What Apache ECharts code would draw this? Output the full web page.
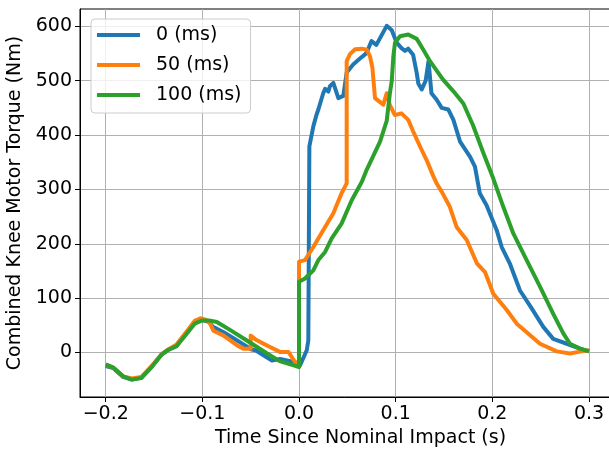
<!DOCTYPE html>
<html><head><meta charset="utf-8">
<script src="https://cdn.jsdelivr.net/npm/echarts@6/dist/echarts.min.js"></script>
<style>html,body{margin:0;padding:0;background:#fff;overflow:hidden}#c{width:609px;height:451px}</style>
</head><body><div id="c"></div>
<script>
const seriesNames = ['0 (ms)', '50 (ms)', '100 (ms)'];
const seriesColors = ['#1f77b4', '#ff7f0e', '#2ca02c'];

const t0 = [-0.2,-0.192,-0.182,-0.173,-0.163,-0.152,-0.142,-0.135,-0.127,-0.116,-0.108,-0.1,-0.093,-0.089,-0.078,-0.064,-0.055,-0.05,-0.045,-0.028,-0.0197,-0.004,0.001,0.008,0.0096,0.0107,0.0148,0.018,0.02,0.025,0.027,0.0303,0.032,0.0355,0.0407,0.0458,0.0493,0.056,0.063,0.068,0.07,0.075,0.08,0.0855,0.0907,0.096,0.101,0.106,0.1097,0.113,0.118,0.1218,0.1234,0.127,0.1286,0.131,0.134,0.137,0.1424,0.1476,0.1545,0.1597,0.1666,0.177,0.182,0.187,0.194,0.2045,0.2097,0.218,0.2286,0.2407,0.2527,0.263,0.277,0.2907,0.3];
const v0 = [-25,-29,-45,-50,-46,-25,-3,5,12,37,55,60,56,47,37,22,12,6,4,-15,-12,-18,-24,4,22,379,416,437,447,477,485,480,490,496,468,472,515,530,541,548,552,573,566,584,601,593,570,560,555,559,548,514,495,484,481,500,536,477,465,450,447,428,388,360,342,293,271,225,194,164,114,81,47,25,16,7,2];

const t50 = [-0.2,-0.192,-0.182,-0.173,-0.163,-0.152,-0.142,-0.135,-0.127,-0.116,-0.108,-0.102,-0.096,-0.092,-0.0886,-0.078,-0.064,-0.0576,-0.05,-0.05,-0.045,-0.04,-0.03,-0.0197,-0.011,-0.004,0.0,0.0,0.0062,0.0148,0.025,0.0355,0.044,0.0493,0.0493,0.0527,0.058,0.0648,0.07,0.0734,0.0759,0.0786,0.0872,0.0907,0.094,0.099,0.106,0.1079,0.113,0.118,0.1252,0.132,0.139,0.1424,0.1476,0.156,0.163,0.1735,0.184,0.1924,0.201,0.2149,0.2252,0.2355,0.2493,0.2666,0.2803,0.2924,0.3];
const v50 = [-23,-28,-44,-48,-45,-24,-3,6,14,39,58,63,60,53,40,31,13,7,7,31,24,19,10,1,1,-18,-20,167,170,194,225,256,293,311,536,549,558,559,557,545,524,468,456,477,455,437,440,440,428,407,379,354,324,311,296,268,231,207,164,148,108,78,53,37,16,2,-2,2,4];

const t100 = [-0.2,-0.192,-0.182,-0.173,-0.163,-0.152,-0.142,-0.135,-0.127,-0.116,-0.108,-0.1,-0.093,-0.085,-0.071,-0.054,-0.033,-0.02,-0.003,0.0,0.0,0.0062,0.0148,0.02,0.027,0.0338,0.044,0.0545,0.065,0.07,0.0838,0.0907,0.094,0.0959,0.0976,0.0993,0.1045,0.113,0.1218,0.1286,0.1355,0.149,0.16,0.17,0.18,0.1907,0.201,0.2113,0.2217,0.2355,0.2493,0.263,0.2734,0.2803,0.2907,0.3];
const v100 = [-22,-28,-44,-50,-47,-26,-4,5,11,35,53,59,59,56,41,22,-2,-16,-25,-27,130,136,151,170,185,210,237,280,314,336,388,426,477,499,545,570,582,585,577,557,536,502,480,458,418,367,320,268,219,170,121,71,35,16,7,2];

const xTicks = [-0.2, -0.1, 0.0, 0.1, 0.2, 0.3];
const yTicks = [0, 100, 200, 300, 400, 500, 600];

const tSets = [t0, t50, t100];
const vSets = [v0, v50, v100];

const FONT = 'DejaVu Sans';
const chart = echarts.init(document.getElementById('c'), null, {renderer: 'canvas'});
const pairs = (t, v) => t.map((x, i) => [x, v[i]]);

chart.setOption({
  animation: false,
  backgroundColor: '#ffffff',
  grid: {left: 80, top: 9, width: 561, height: 388, outerBoundsMode: 'none', containLabel: false,
    show: true, borderColor: '#000', borderWidth: 1, backgroundColor: 'transparent'},
  legend: {
    orient: 'vertical', left: 91, top: 19,
    data: seriesNames,
    icon: 'rect', itemWidth: 43, itemHeight: 4, itemGap: 0,
    textStyle: {fontSize: 19, fontFamily: FONT, color: '#000', lineHeight: 30, padding: [0, 0, 0, 11]},
    padding: [1, 9, 3, 6],
    borderColor: '#cccccc', borderWidth: 1, borderRadius: 4,
    backgroundColor: 'rgba(255,255,255,0.8)'
  },
  xAxis: {
    type: 'value', min: -0.2266, max: 0.3538,
    name: 'Time Since Nominal Impact (s)', nameLocation: 'middle', nameGap: 29,
    nameTextStyle: {fontSize: 19, fontFamily: FONT, color: '#000'},
    axisLine: {show: true, onZero: false, lineStyle: {color: '#000', width: 1}},
    axisTick: {show: true, length: 5, lineStyle: {color: '#000', width: 1}, customValues: xTicks},
    axisLabel: {fontSize: 19, fontFamily: FONT, color: '#000', margin: 8, customValues: xTicks,
      formatter: v => (v < 0 ? '\u2212' : '') + Math.abs(v).toFixed(1)},
    splitLine: {show: true, lineStyle: {color: '#b0b0b0', width: 1}}
  },
  yAxis: {
    type: 'value', min: -82, max: 632,
    name: 'Combined Knee Motor Torque (Nm)', nameLocation: 'middle', nameGap: 50,
    nameTextStyle: {fontSize: 19, fontFamily: FONT, color: '#000'},
    axisLine: {show: true, onZero: false, lineStyle: {color: '#000', width: 1}},
    axisTick: {show: true, length: 5, lineStyle: {color: '#000', width: 1}, customValues: yTicks},
    axisLabel: {fontSize: 19, fontFamily: FONT, color: '#000', margin: 8, customValues: yTicks,
      formatter: v => String(Math.round(v))},
    splitLine: {show: true, lineStyle: {color: '#b0b0b0', width: 1}}
  },
  series: seriesNames.map((n, i) => ({
    name: n, type: 'line', data: pairs(tSets[i], vSets[i]),
    showSymbol: false, symbol: 'none', color: seriesColors[i],
    lineStyle: {width: 4, color: seriesColors[i], join: 'round', cap: 'butt'},
    emphasis: {disabled: true}, z: 2 + i
  }))
});
</script></body></html>
